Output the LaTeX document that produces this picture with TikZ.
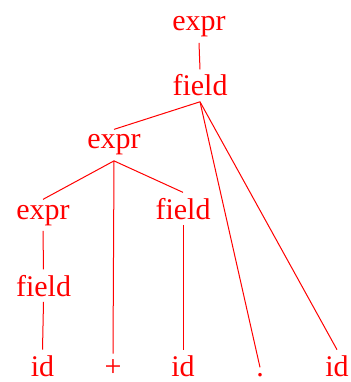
\documentclass[tikz,border=0pt]{standalone}
\usepackage{fontspec}
\setmainfont{Liberation Serif}
\usepackage{tikz}
\usetikzlibrary{positioning}

\begin{document}
\begin{tikzpicture}[x=1pt,y=-1pt,red,line width=1pt]
    \tikzstyle{sym}=[text=red, anchor=base, inner xsep=0pt, inner ysep=5pt, font=\fontsize{30}{36}\selectfont]
    \useasboundingbox (0,0) rectangle (350,382);

    \node[sym]    (expr)    at (199,31)  {expr};
    \node[sym]    (field)   at (200,96)  {field};
    \node[sym]    (expr')   at (114,149) {expr};
    \node[sym]    (expr'')  at (43,219)  {expr};
    \node[sym]    (field')  at (183,219) {field};
    \node[sym]    (field'') at (43.5,296) {field};
    \node[sym]    (id)      at (42.5,376) {id};
    \node[sym]    (plus)    at (113,376) {+};
    \node[sym]    (id')     at (183,376) {id};
    \node[sym]    (dot)     at (260,376) {.};
    \node[sym]    (id'')    at (337,376) {id};

    \draw (expr.south) -- (field.north);
    \draw (field.south) -- (expr'.north);
    \draw (field.south) -- (dot.north);
    \draw (field.south) -- (id''.north);
    \draw (expr'.south) -- (expr''.north);
    \draw (expr'.south) -- (plus.north);
    \draw (expr'.south) -- (field'.north);
    \draw (expr''.south) -- (field''.north);
    \draw (field''.south) -- (id.north);
    \draw (field'.south) -- (id'.north);

\end{tikzpicture}
\end{document}
